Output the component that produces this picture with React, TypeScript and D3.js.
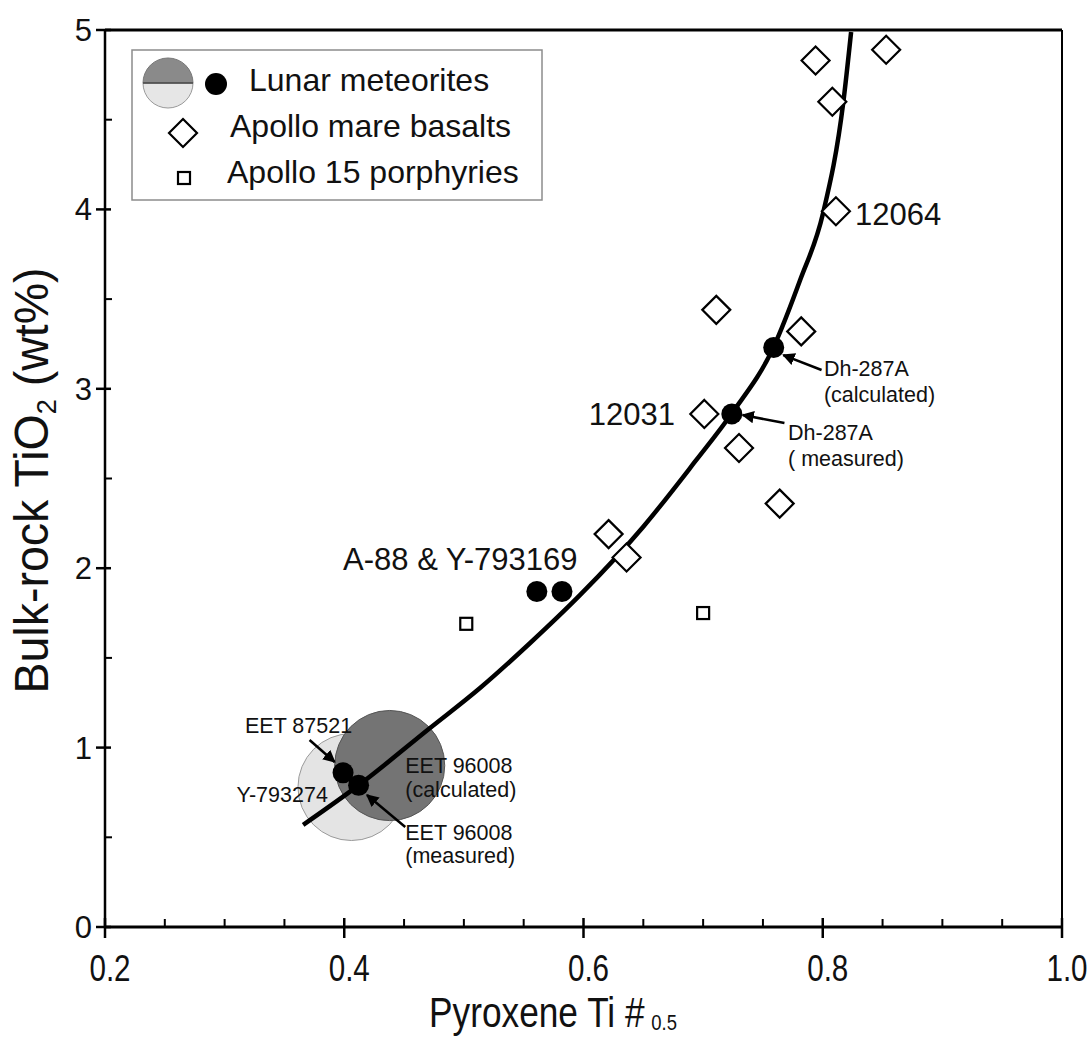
import React from 'react';
import * as d3 from 'd3';

const W = 1089;
const H = 1039;

const xTicks = [0.2, 0.4, 0.6, 0.8, 1.0];
const yTicks = [0, 1, 2, 3, 4, 5];
const xMinorTicks = [0.25, 0.3, 0.35, 0.45, 0.5, 0.55, 0.65, 0.7, 0.75, 0.85, 0.9, 0.95];
const yMinorTicks = [0.5, 1.5, 2.5, 3.5, 4.5];

// Apollo mare basalts
const basaltX = [0.794, 0.853, 0.808, 0.811, 0.711, 0.782, 0.701, 0.730, 0.764, 0.621, 0.636];
const basaltY = [4.83, 4.89, 4.60, 3.99, 3.44, 3.32, 2.86, 2.67, 2.36, 2.19, 2.06];

// Apollo 15 porphyries
const porphyryX = [0.502, 0.700];
const porphyryY = [1.69, 1.75];

// Lunar meteorites (points)
const meteoriteNames = ['A-88', 'Y-793169', 'Dh-287A (calculated)', 'Dh-287A (measured)', 'EET 87521', 'EET 96008 (measured)'];
const meteoriteX = [0.561, 0.582, 0.759, 0.724, 0.399, 0.412];
const meteoriteY = [1.87, 1.87, 3.23, 2.86, 0.86, 0.79];

// Lunar meteorite fields (circles)
const fieldNames = ['Y-793274', 'EET 96008 (calculated)'];
const fieldX = [0.406, 0.438];
const fieldY = [0.78, 0.90];
const fieldRx = [0.0447, 0.046];
const fieldRy = [0.298, 0.307];
const fieldFill = ['#e4e4e4', '#747474'];

// trend curve
const trendX = [0.3656, 0.4124, 0.4717, 0.5135, 0.5554, 0.5972, 0.6498, 0.6930, 0.7242, 0.7585, 0.7811, 0.8003, 0.8171, 0.8237];
const trendY = [0.569, 0.792, 1.109, 1.332, 1.583, 1.851, 2.230, 2.592, 2.865, 3.227, 3.606, 3.980, 4.593, 4.989];

// text annotations
const labelText = ['12064', '12031', 'A-88 & Y-793169', 'Dh-287A', '(calculated)', 'Dh-287A', '( measured)', 'EET 87521', 'Y-793274', 'EET 96008', '(calculated)', 'EET 96008', '(measured)'];
const labelX = [0.827, 0.6765, 0.399, 0.801, 0.801, 0.771, 0.771, 0.317, 0.310, 0.451, 0.451, 0.451, 0.451];
const labelY = [3.913, 2.798, 1.99, 3.071, 2.926, 2.715, 2.570, 1.081, 0.697, 0.858, 0.725, 0.485, 0.357];
const labelSize = ['big', 'big', 'big', 'small', 'small', 'small', 'small', 'small', 'small', 'small', 'small', 'small', 'small'];
const labelAnchor = ['start', 'end', 'start', 'start', 'start', 'start', 'start', 'start', 'start', 'start', 'start', 'start', 'start'];

// arrows: tail -> head
const arrowX0 = [0.799, 0.768, 0.371, 0.451];
const arrowY0 = [3.105, 2.809, 1.042, 0.557];
const arrowX1 = [0.767, 0.733, 0.392, 0.419];
const arrowY1 = [3.188, 2.854, 0.920, 0.736];

const legendLabels = ['Lunar meteorites', 'Apollo mare basalts', 'Apollo 15 porphyries'];

const left = 105, right = 1062, top = 30, bottom = 927;
const x = d3.scaleLinear().domain([0.2, 1.0]).range([left, right]);
const y = d3.scaleLinear().domain([0, 5]).range([bottom, top]);

const FONT = "'Liberation Sans', Arial, Helvetica, sans-serif";

function diamond(cx: number, cy: number, r: number) {
  return `M${cx},${cy - r}L${cx + r},${cy}L${cx},${cy + r}L${cx - r},${cy}Z`;
}

export default function App() {
  const line = d3.line<number>()
    .x((_, i) => x(trendX[i]))
    .y((_, i) => y(trendY[i]))
    .curve(d3.curveMonotoneX);
  const trendPath = line(trendX) || '';

  return (
    <svg width={W} height={H} style={{ position: 'absolute', left: 0, top: 0, background: '#fff' }}>
      <defs>
        <clipPath id="plotClip">
          <rect x={left} y={top} width={right - left} height={bottom - top} />
        </clipPath>
        <marker id="arrowHead" viewBox="0 0 10 10" refX="9" refY="5" markerWidth="5" markerHeight="5" orient="auto" markerUnits="strokeWidth">
          <path d="M0,0L10,5L0,10Z" fill="#000" />
        </marker>
      </defs>

      {/* fields */}
      {fieldX.map((fx, i) => (
        <ellipse key={'f' + i} cx={x(fx)} cy={y(fieldY[i])}
          rx={x(fx + fieldRx[i]) - x(fx)} ry={y(fieldY[i] - fieldRy[i]) - y(fieldY[i])}
          fill={fieldFill[i]} stroke={i === 0 ? '#9a9a9a' : '#555'} strokeWidth={1}>
          <title>{fieldNames[i]}</title>
        </ellipse>
      ))}

      {/* trend curve */}
      <path d={trendPath} fill="none" stroke="#000" strokeWidth={4.5} clipPath="url(#plotClip)" />

      {/* basalts */}
      {basaltX.map((bx, i) => (
        <path key={'b' + i} d={diamond(x(bx), y(basaltY[i]), 14)} fill="#fff" stroke="#000" strokeWidth={2.2} />
      ))}

      {/* porphyries */}
      {porphyryX.map((px, i) => (
        <rect key={'p' + i} x={x(px) - 6} y={y(porphyryY[i]) - 6} width={12} height={12} fill="#fff" stroke="#000" strokeWidth={2.2} />
      ))}

      {/* meteorites */}
      {meteoriteX.map((mx, i) => (
        <circle key={'m' + i} cx={x(mx)} cy={y(meteoriteY[i])} r={10.5} fill="#000">
          <title>{meteoriteNames[i]}</title>
        </circle>
      ))}

      {/* arrows */}
      {arrowX0.map((ax, i) => (
        <line key={'a' + i} x1={x(ax)} y1={y(arrowY0[i])} x2={x(arrowX1[i])} y2={y(arrowY1[i])}
          stroke="#000" strokeWidth={2.5} markerEnd="url(#arrowHead)" />
      ))}

      {/* labels */}
      {labelText.map((t, i) => (
        <text key={'l' + i} x={x(labelX[i])} y={y(labelY[i])} textAnchor={labelAnchor[i]}
          fontFamily={FONT} fontSize={labelSize[i] === 'big' ? 31 : 21.5} fill="#111">{t}</text>
      ))}

      {/* frame */}
      <line x1={left} y1={top} x2={right} y2={top} stroke="#000" strokeWidth={3} />
      <line x1={right} y1={top} x2={right} y2={bottom} stroke="#000" strokeWidth={2} />
      <line x1={left} y1={top} x2={left} y2={bottom} stroke="#000" strokeWidth={2.5} />
      <line x1={left} y1={bottom} x2={right} y2={bottom} stroke="#000" strokeWidth={3} />

      {/* x ticks */}
      {xTicks.map(t => (
        <g key={'xt' + t}>
          <line x1={x(t)} x2={x(t)} y1={bottom - 9} y2={bottom + 11} stroke="#000" strokeWidth={2.5} />
          <text transform={`translate(${x(t) + 5},${bottom + 54}) scale(0.8,1)`} textAnchor="middle" fontFamily={FONT} fontSize={37} fill="#111">{t.toFixed(1)}</text>
        </g>
      ))}
      {xMinorTicks.map(t => (
        <line key={'xm' + t} x1={x(t)} x2={x(t)} y1={bottom - 8} y2={bottom} stroke="#000" strokeWidth={2} />
      ))}

      {/* y ticks */}
      {yTicks.map(t => (
        <g key={'yt' + t}>
          <line x1={left - 9} x2={left + 6} y1={y(t)} y2={y(t)} stroke="#000" strokeWidth={2.5} />
          <text x={left - 13} y={y(t) + 11} textAnchor="end" fontFamily={FONT} fontSize={31} fill="#111">{t}</text>
        </g>
      ))}
      {yMinorTicks.map(t => (
        <line key={'ym' + t} x1={left} x2={left + 7} y1={y(t)} y2={y(t)} stroke="#000" strokeWidth={2} />
      ))}

      {/* axis titles */}
      <text transform="translate(553,1027) scale(0.84,1)" textAnchor="middle" fontFamily={FONT} fontSize={42} fill="#111">
        Pyroxene Ti #<tspan fontSize={22} dx={8} dy={3}>0.5</tspan>
      </text>
      <text transform={`translate(48,${(top + bottom) / 2 + 2}) rotate(-90) scale(0.97,1)`} textAnchor="middle" fontFamily={FONT} fontSize={48} fill="#111">
        Bulk-rock TiO<tspan fontSize={28} dy={8}>2</tspan><tspan dy={-8}> (wt%)</tspan>
      </text>

      {/* legend */}
      <rect x={132} y={50} width={410} height={150} fill="#fff" stroke="#8c8c8c" strokeWidth={1.5} />
      <path d="M143,83A25,25 0 0 1 193,83Z" fill="#8a8a8a" stroke="#777" strokeWidth={1} />
      <path d="M143,83A25,25 0 0 0 193,83Z" fill="#e6e6e6" stroke="#999" strokeWidth={1} />
      <line x1={143} x2={193} y1={83} y2={83} stroke="#444" strokeWidth={1.5} />
      <circle cx={216} cy={84} r={11} fill="#000" />
      <path d={diamond(183, 133, 14)} fill="#fff" stroke="#000" strokeWidth={2.2} />
      <rect x={178} y={172} width={12} height={12} fill="#fff" stroke="#000" strokeWidth={2.2} />
      <text x={249} y={91} fontFamily={FONT} fontSize={32} fill="#111">{legendLabels[0]}</text>
      <text x={230} y={137} fontFamily={FONT} fontSize={32} fill="#111">{legendLabels[1]}</text>
      <text x={227} y={183} fontFamily={FONT} fontSize={32} fill="#111">{legendLabels[2]}</text>
    </svg>
  );
}
